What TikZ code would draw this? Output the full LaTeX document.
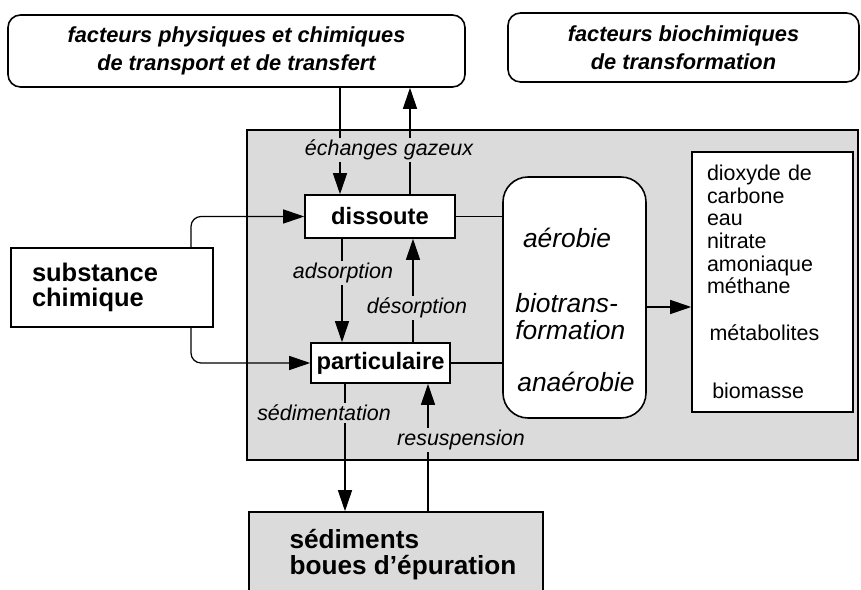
\documentclass[tikz,border=0pt]{standalone}
\usepackage{fontspec}
\setmainfont{Liberation Sans}
\usetikzlibrary{arrows.meta}
\colorlet{fond}{black!14}

\begin{document}
\begin{tikzpicture}[
	fleche/.style={line width=0.7pt, -{Triangle[length=4.2mm, width=2.8mm]}},
	trait/.style={line width=0.7pt},
	boite/.style={draw, line width=0.9pt, inner sep=0pt},
	facteur/.style={boite, rounded corners=2.5mm, align=center, font=\fontsize{12.4}{16}\selectfont\bfseries\itshape},
	etat/.style={boite, fill=white, font=\fontsize{13.5}{16}\selectfont\bfseries},
	echange/.style={fill=fond, inner sep=1pt, font=\fontsize{12.2}{14}\selectfont\itshape},
	bioligne/.style={inner sep=0pt, align=left, font=\fontsize{15}{15.3}\selectfont\itshape},
]
	\useasboundingbox (0,0) rectangle (17.22,11.8);

	\node[facteur, minimum width=9.14cm, minimum height=1.44cm] (physique) at (4.73,10.78) {facteurs physiques et chimiques\\de transport et de transfert};
	\node[facteur, minimum width=7.02cm, minimum height=1.38cm] (biochimie) at (13.67,10.85) {facteurs biochimiques\\de transformation};

	\node[boite, fill=fond, minimum width=12.22cm, minimum height=6.6cm] (milieu) at (11.05,5.9) {};
	\node[etat, minimum width=3cm, minimum height=0.86cm] (dissoute) at (7.6,7.47) {dissoute};
	\node[etat, minimum width=2.78cm, minimum height=0.8cm] (particulaire) at (7.61,4.54) {particulaire};
	\node[boite, fill=white, minimum height=1.58cm, text width=3.2cm, inner xsep=0.42cm, align=left, font=\fontsize{14.5}{14}\selectfont\bfseries] (substance) at (2.24,6.05) {substance\\chimique};

	\node[boite, fill=white, rounded corners=5mm, minimum width=2.86cm, minimum height=4.82cm] (bio) at (11.49,5.85) {};
	\node[bioligne] (aerobie) at (11.34,7.04) {aérobie};
	\node[bioligne, anchor=west] (biotrans) at (10.3,5.47) {biotrans-\\formation};
	\node[bioligne] (anaerobie) at (11.52,4.16) {anaérobie};

	\node[boite, fill=white, minimum height=5.2cm, text width=2.62cm, inner xsep=0.3cm, align=left, font=\fontsize{12.2}{12.9}\selectfont] (produits) at (15.45,6.16) {dioxyde de\\carbone\\eau\\nitrate\\amoniaque\\méthane\\[13.8pt]\hspace*{1.5pt}métabolites\\[20pt]\hspace*{3pt}biomasse};

	\node[boite, fill=fond, minimum width=5.88cm, minimum height=1.72cm] (sediments) at (7.92,0.7) {};
	\node[inner sep=0pt, anchor=west, align=left, font=\fontsize{14.9}{14.7}\selectfont\bfseries] (sedtexte) at ([xshift=0.82cm]sediments.west) {sédiments\\boues d'épuration};

	\draw[fleche, rounded corners=2mm] (3.82,0 |- substance.north) |- (dissoute.west);
	\draw[fleche, rounded corners=2mm] (3.82,0 |- substance.south) |- (particulaire.west);
	\draw[fleche] (6.8,0 |- physique.south) -- (6.8,0 |- dissoute.north);
	\draw[fleche] (8.2,0 |- dissoute.north) -- (8.2,0 |- physique.south);
	\draw[fleche] (6.84,0 |- dissoute.south) -- (6.84,0 |- particulaire.north);
	\draw[fleche] (8.26,0 |- particulaire.north) -- (8.26,0 |- dissoute.south);
	\draw[fleche] (6.9,0 |- particulaire.south) -- (6.9,0 |- sediments.north);
	\draw[fleche] (8.56,0 |- sediments.north) -- (8.56,0 |- particulaire.south);
	\draw[trait] (dissoute.east) -- (dissoute.east -| bio.west);
	\draw[trait] (particulaire.east) -- (particulaire.east -| bio.west);
	\draw[fleche] (bio.east |- 0,5.66) -- (produits.west |- 0,5.66);

	\node[echange] (gaz) at (7.78,8.8) {échanges gazeux};
	\node[echange] (adsorption) at (6.86,6.34) {adsorption};
	\node[echange] (desorption) at (8.34,5.64) {désorption};
	\node[echange] (sedimentation) at (6.48,3.54) {sédimentation};
	\node[echange] (resuspension) at (9.22,3.0) {resuspension};
\end{tikzpicture}
\end{document}
